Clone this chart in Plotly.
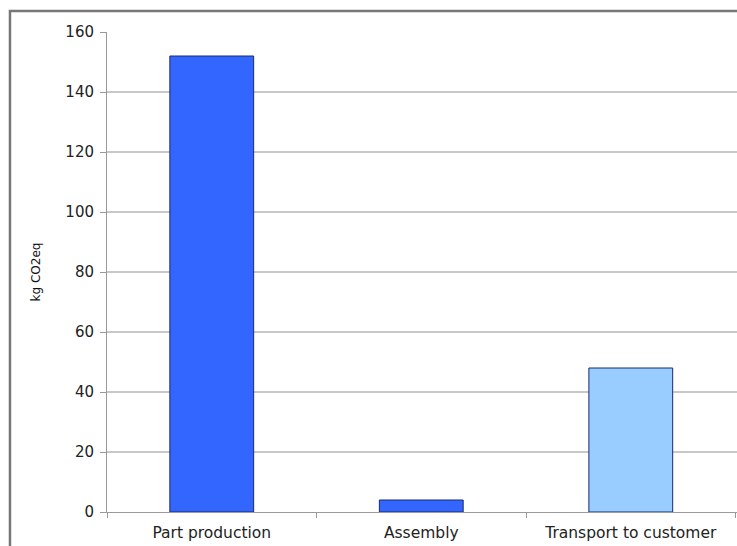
import plotly.graph_objects as go

categories = ["Part production", "Assembly", "Transport to customer"]
values = [152, 4, 48]
bar_colors = ["#3366FF", "#3366FF", "#99CCFF"]
y_ticks = [0, 20, 40, 60, 80, 100, 120, 140, 160]
grid_ticks = [20, 40, 60, 80, 100, 120, 140]

W, H = 737, 546
L, R, T, B = 107, 0, 32, 34

fig = go.Figure()
# invisible trace on primary y to carry gridlines (drawn underneath)
fig.add_trace(go.Scatter(x=categories, y=values, yaxis="y", mode="markers",
                         marker=dict(opacity=0), showlegend=False, hoverinfo="skip"))
fig.add_trace(go.Bar(
    x=categories, y=values, yaxis="y2",
    marker=dict(color=bar_colors, line=dict(color="#1a2a6c", width=1)),
    width=0.4, showlegend=False, hoverinfo="x+y",
))

font = "DejaVu Sans, Liberation Sans, Arial, sans-serif"
fig.update_layout(
    width=W, height=H,
    margin=dict(l=L, r=R, t=T, b=B, autoexpand=False),
    paper_bgcolor="white", plot_bgcolor="white",
    font=dict(family=font, color="#222222"),
    xaxis=dict(
        type="category", range=[-0.5, 2.507],
        showline=True, linecolor="#999999", linewidth=1,
        ticks="outside", tickson="boundaries", ticklen=5, tickcolor="#999999",
        tickfont=dict(size=15.5, color="#222222"), ticklabelstandoff=6,
        showgrid=False, automargin=False,
    ),
    yaxis=dict(
        range=[0, 160], tickvals=grid_ticks,
        showgrid=True, gridcolor="#c8c8c8", gridwidth=1.5,
        showticklabels=False, zeroline=False, showline=False, ticks="",
        automargin=False,
    ),
    yaxis2=dict(
        range=[0, 160], tickvals=y_ticks, overlaying="y", side="left",
        showline=True, linecolor="#999999", linewidth=1,
        ticks="outside", ticklen=6, tickcolor="#999999",
        tickfont=dict(size=15, color="#222222"), ticklabelstandoff=3,
        showgrid=False, zeroline=False, automargin=False,
        title=dict(text="kg CO2eq", font=dict(size=12, color="#111111"), standoff=22),
    ),
    shapes=[dict(
        type="path", xref="paper", yref="paper",
        path="M -0.154,-0.1 L -0.154,1.0438 L 1.01,1.0438",
        line=dict(color="#777777", width=2.5),
    )],
)
fig.write_html("out.html")
